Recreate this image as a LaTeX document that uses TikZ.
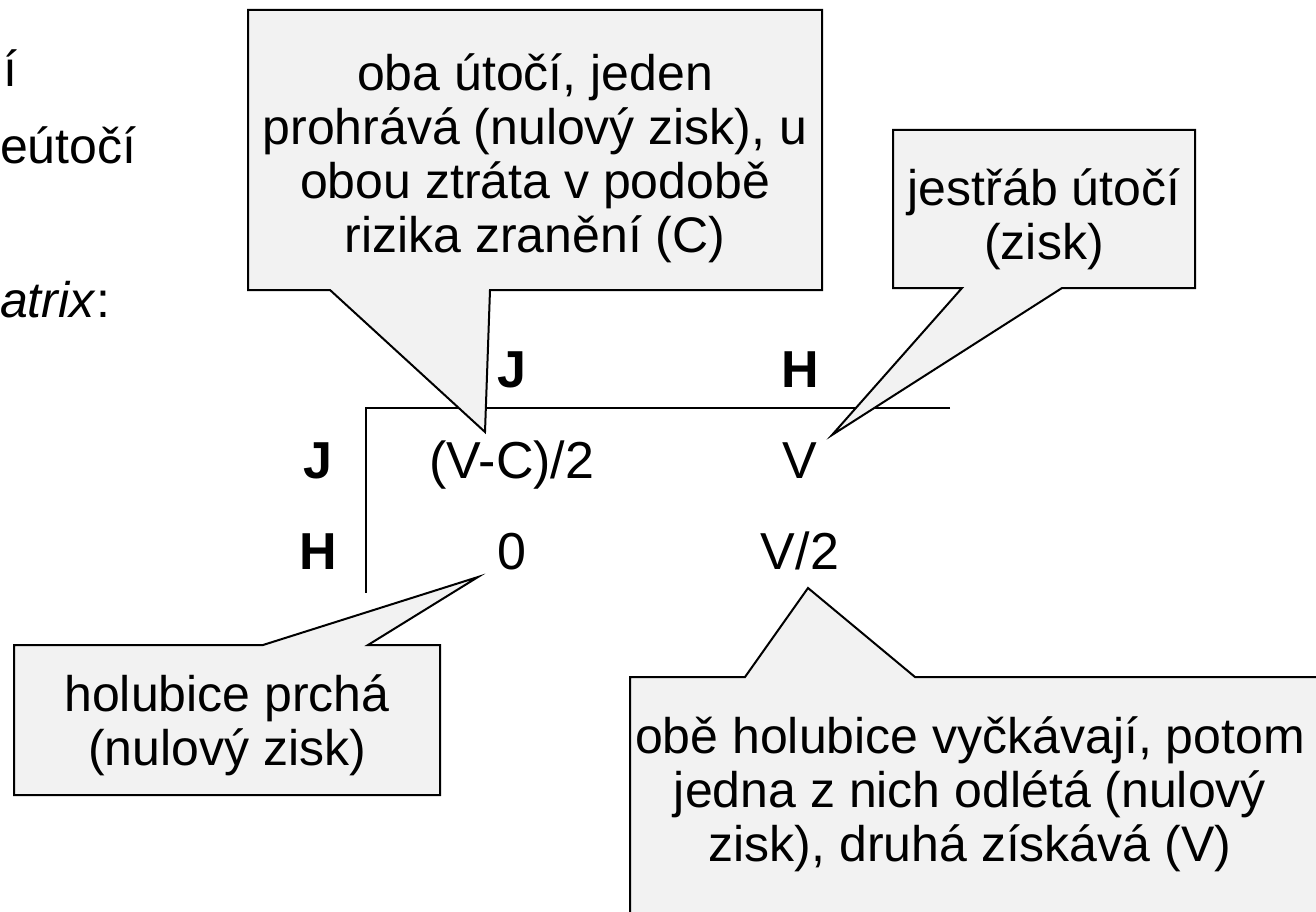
\documentclass[tikz,border=0pt]{standalone}
\usepackage{fontspec}
\setmainfont{Liberation Sans}
\begin{document}
\begin{tikzpicture}[x=1pt,y=-1pt,
  txt/.style={inner sep=0pt, font=\fontsize{50}{54}\selectfont, align=center},
  lbl/.style={inner sep=0pt, anchor=base, font=\fontsize{52}{54}\selectfont\bfseries},
  val/.style={inner sep=0pt, anchor=base, font=\fontsize{52}{54}\selectfont},
  bubble/.style={draw=black, fill=black!5, line width=2pt, line join=miter},
  rule/.style={draw=black, line width=2.4pt}]
\useasboundingbox (0,0) rectangle (1316,912);
\clip (0,0) rectangle (1316,912);
\fill[white] (0,0) rectangle (1316,912);

% left cut-off text
\node[txt, anchor=west] (t1) at (3,68) {í};
\node[txt, anchor=west] (t2) at (0,145) {eútočí};
\node[txt, anchor=west] (t3) at (0,300) {\textit{atrix}:};

% matrix
\coordinate (ml) at (366,408);
\coordinate (mr) at (950,408);
\coordinate (mb) at (366,593);
\draw[rule] (mr) -- (ml) -- (mb);
\node[lbl] (cJ) at (512,387) {J};
\node[lbl] (cH) at (800,387) {H};
\node[lbl] (rJ) at (318,478) {J};
\node[lbl] (rH) at (318,569) {H};
\node[val] (vJJ) at (512,478) {(V-C)/2};
\node[val] (vJH) at (800,478) {V};
\node[val] (vHJ) at (512,569) {0};
\node[val] (vHH) at (800,569) {V/2};

% callout tips
\coordinate (tipA) at (485,432);
\coordinate (tipB) at (832,435);
\coordinate (tipC) at (478,577);
\coordinate (tipD) at (808,588);

% top-centre callout
\draw[bubble] (248,10) -- (822,10) -- (822,290) -- (490,290) -- (tipA) -- (330,290) -- (248,290) -- cycle;
\node[txt] (cA) at (535,158) {oba útočí, jeden\\prohrává (nulový zisk), u\\obou ztráta v podobě\\rizika zranění (C)};

% top-right callout
\draw[bubble] (893,130) -- (1195,130) -- (1195,288) -- (1062,288) -- (tipB) -- (962,288) -- (893,288) -- cycle;
\node[txt] (cB) at (1044,219) {jestřáb útočí\\(zisk)};

% bottom-left callout
\draw[bubble] (14,645) -- (263,645) -- (tipC) -- (368,645) -- (440,645) -- (440,795) -- (14,795) -- cycle;
\node[txt] (cC) at (227,725) {holubice prchá\\(nulový zisk)};

% bottom-right callout
\draw[bubble] (630,677) -- (745,677) -- (tipD) -- (915,677) -- (1330,677) -- (1330,930) -- (630,930) -- cycle;
\node[txt] (cD) at (970,794) {obě holubice vyčkávají, potom\\jedna z nich odlétá (nulový\\zisk), druhá získává (V)};
\end{tikzpicture}
\end{document}
